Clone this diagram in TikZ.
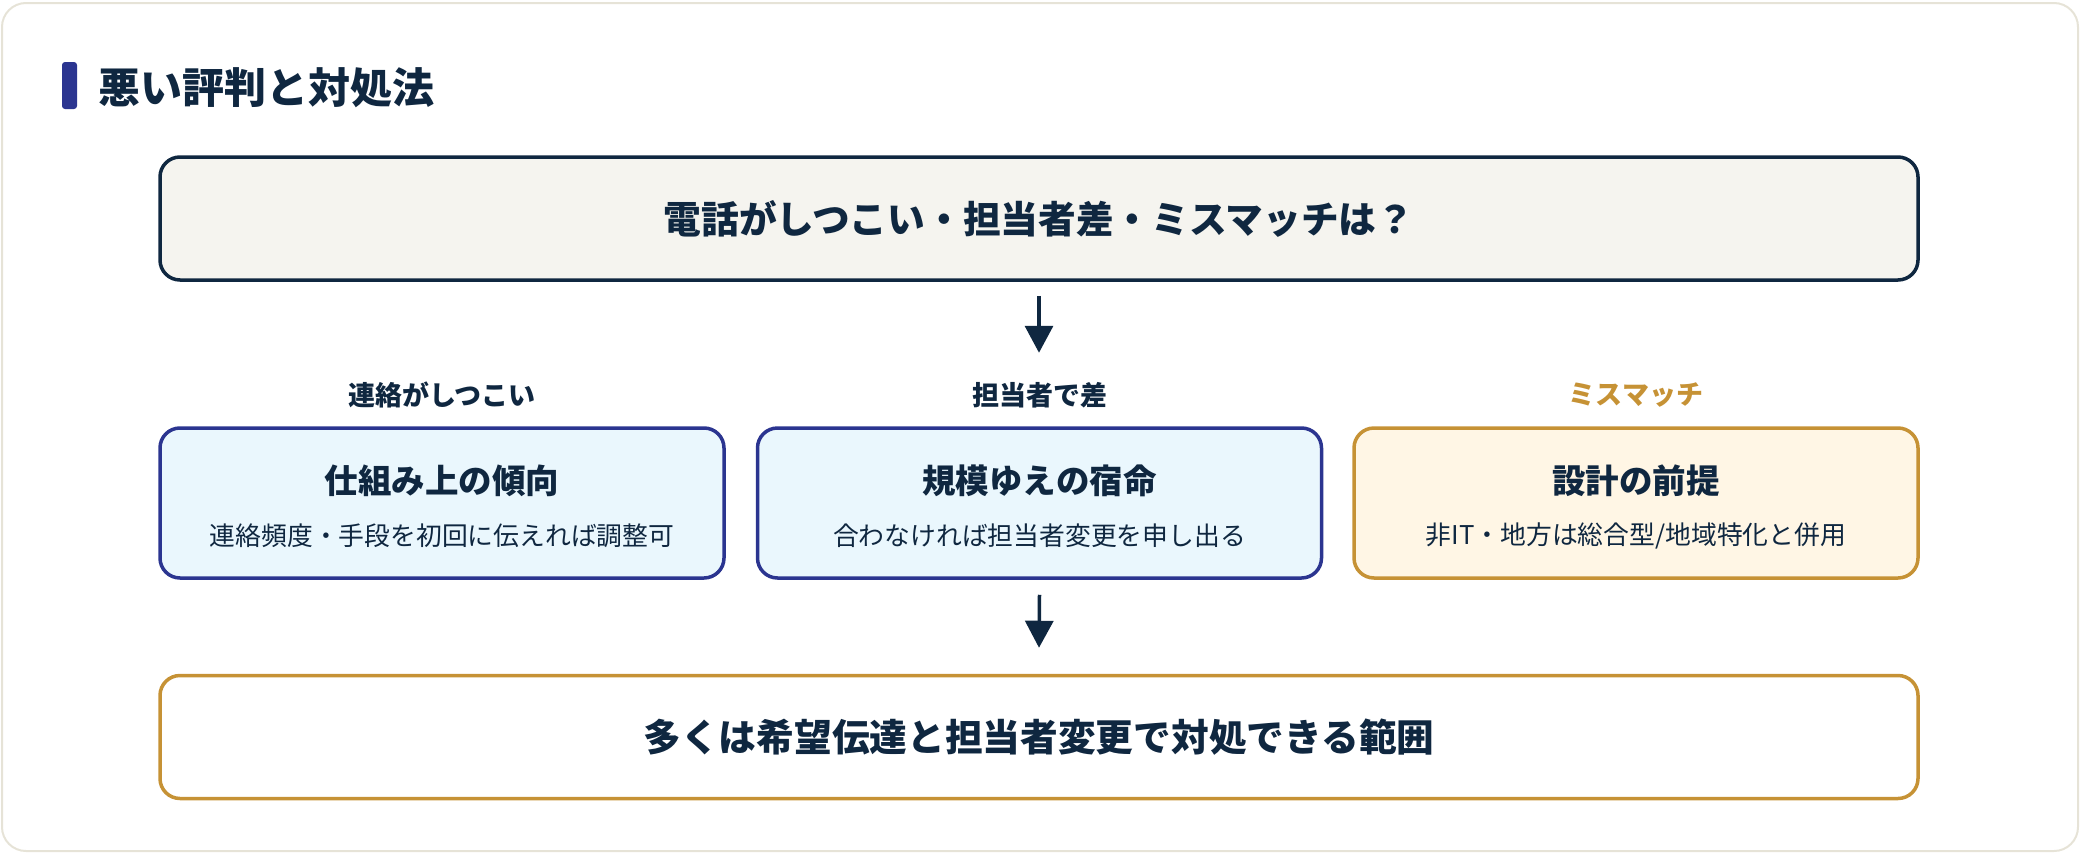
\documentclass[tikz,border=0pt]{standalone}
\usepackage{fontspec}
\setmainfont{Noto Sans CJK JP}
\usepackage{tikz}
\usetikzlibrary{arrows.meta,positioning,calc}
\definecolor{navy}{HTML}{0F2740}
\definecolor{indigo}{HTML}{2B3590}
\definecolor{gold}{HTML}{C69235}
\definecolor{skyfill}{HTML}{EAF7FD}
\definecolor{creamfill}{HTML}{FFF6E5}
\definecolor{topfill}{HTML}{F5F4EF}
\definecolor{framec}{HTML}{E6E3D7}
\tikzset{
  box/.style    ={draw,rounded corners=20pt,line width=3.5pt,inner sep=0pt},
  mainbox/.style={box,minimum width=1758pt,minimum height=123pt},
  sidebox/.style={box,minimum width=564pt,minimum height=150pt},
  bigtxt/.style ={font=\fontsize{37.7}{44}\selectfont\bfseries,text=navy,inner sep=0pt},
  lbl/.style    ={font=\fontsize{27}{32}\selectfont\bfseries,text=navy,inner sep=0pt},
  boxttl/.style ={font=\fontsize{33.5}{40}\selectfont\bfseries,text=navy,inner sep=0pt},
  boxsub/.style ={font=\fontsize{25.8}{30}\selectfont,text=navy,inner sep=0pt},
  arr/.style    ={-{Triangle[width=28pt,length=27pt]},line width=3.5pt,navy},
}
\begin{document}
\begin{tikzpicture}[x=1pt,y=-1pt]
  \useasboundingbox (0,0) rectangle (2080,854);
  % frame
  \draw[framec,line width=2pt,rounded corners=24pt] (2,3) rectangle (2078,851);
  % heading
  \node[fill=indigo,rounded corners=3pt,minimum width=15pt,minimum height=47pt,inner sep=0pt] (bar) at (69.5,85.5) {};
  \node[font=\fontsize{42}{50}\selectfont\bfseries,text=navy,inner sep=0pt,anchor=west] (title) at (98,88) {悪い評判と対処法};
  % question
  \node[mainbox,draw=navy,fill=topfill] (top) at (1039,218.5) {};
  \node[bigtxt] (q) at (top.center) {電話がしつこい・担当者差・ミスマッチは？};
  % three causes
  \node[sidebox,draw=indigo,fill=skyfill] (b1) at (442,503) {};
  \node[sidebox,draw=indigo,fill=skyfill] (b2) at (1039.5,503) {};
  \node[sidebox,draw=gold,fill=creamfill] (b3) at (1636,503) {};
  \node[lbl] (l1) at (b1.north) [yshift=31pt] {連絡がしつこい};
  \node[lbl] (l2) at (b2.north) [yshift=31pt] {担当者で差};
  \node[lbl,text=gold] (l3) at (b3.north) [yshift=31pt] {ミスマッチ};
  \node[boxttl] (t1) at (b1.center) [yshift=22pt] {仕組み上の傾向};
  \node[boxttl] (t2) at (b2.center) [yshift=22pt] {規模ゆえの宿命};
  \node[boxttl] (t3) at (b3.center) [yshift=22pt] {設計の前提};
  \node[boxsub] (s1) at (b1.center) [yshift=-33pt] {連絡頻度・手段を初回に伝えれば調整可};
  \node[boxsub] (s2) at (b2.center) [yshift=-33pt] {合わなければ担当者変更を申し出る};
  \node[boxsub] (s3) at (b3.center) [yshift=-33pt] {非IT・地方は総合型/地域特化と併用};
  % conclusion
  \node[mainbox,draw=gold,fill=white] (bot) at (1039,737) {};
  \node[bigtxt] (c) at (bot.center) {多くは希望伝達と担当者変更で対処できる範囲};
  % arrows
  \draw[arr] ([yshift=-14pt]top.south) -- ([yshift=-71pt]top.south);
  \draw[arr] ([yshift=-15pt]b2.south) -- ([yshift=26pt]bot.north);
\end{tikzpicture}
\end{document}
